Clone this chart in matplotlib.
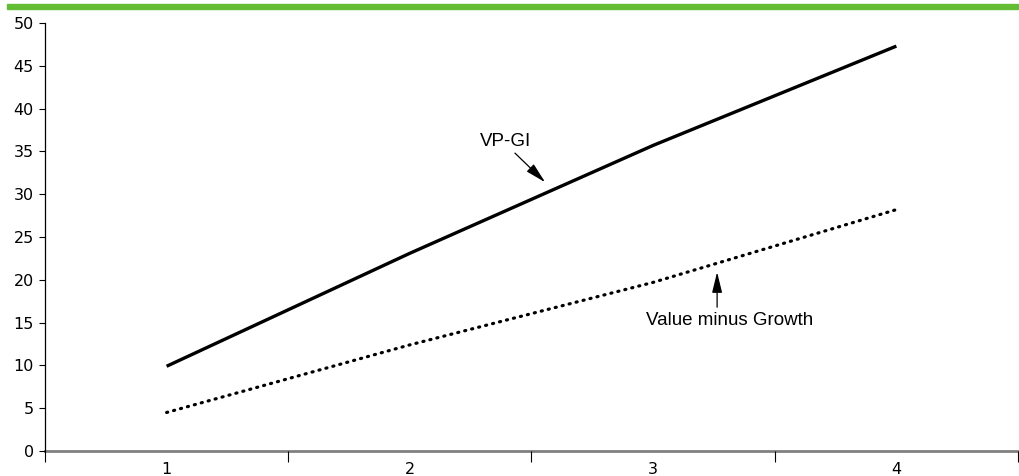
import matplotlib
matplotlib.use("Agg")
import matplotlib.pyplot as plt
from matplotlib.patches import Rectangle

categories = ["1", "2", "3", "4"]
vp_gi = [9.9, 23.1, 35.7, 47.3]
value_minus_growth = [4.5, 12.4, 19.7, 28.2]
y_ticks = [0, 5, 10, 15, 20, 25, 30, 35, 40, 45, 50]

plt.rcParams['font.family'] = ['Liberation Sans', 'DejaVu Sans']

fig = plt.figure(figsize=(10.2, 4.76), dpi=100)
ax = fig.add_axes([45/1020, 25/476, (1018-45)/1020, (451-23)/476])

x = list(range(1, len(categories) + 1))
ax.plot(x, vp_gi, color='black', lw=2.4, solid_capstyle='butt')
ax.plot(x, value_minus_growth, color='black', lw=2.3,
        linestyle=(0, (0.35, 1.9)), dash_capstyle='round')

ax.set_xlim(0.5, 4.5)
ax.set_ylim(0, 50)
ax.set_yticks(y_ticks)
ax.set_yticklabels([str(t) for t in y_ticks], fontsize=11.5, family='DejaVu Sans')
ax.set_xticks(x)
ax.set_xticklabels(categories, fontsize=11.5, family='DejaVu Sans')
ax.set_xticks([0.5, 1.5, 2.5, 3.5, 4.5], minor=True)
ax.tick_params(axis='x', which='major', length=0, pad=8)
ax.tick_params(axis='x', which='minor', length=8, width=0.8, direction='out')
ax.tick_params(axis='y', length=4, width=0.8, direction='out', pad=4)

for s in ['top', 'right']:
    ax.spines[s].set_visible(False)
ax.spines['left'].set_linewidth(0.9)
ax.spines['bottom'].set_color('#808080')
ax.spines['bottom'].set_linewidth(2.0)
ax.spines['bottom'].set_zorder(0.5)

arrow = dict(arrowstyle='-|>,head_length=0.9,head_width=0.22', color='black',
             lw=0.9, mutation_scale=14, shrinkA=0, shrinkB=0)

ax.text(2.395, 36.1, "VP-GI", ha='center', va='center', fontsize=13.5)
ax.annotate("", xy=(2.556, 31.4), xytext=(2.432, 34.8), arrowprops=arrow)

ax.text(3.316, 15.19, "Value minus Growth", ha='center', va='center', fontsize=13.5)
ax.annotate("", xy=(3.263, 20.9), xytext=(3.263, 16.8), arrowprops=arrow)

fig.patches.append(Rectangle((7/1020, 1 - 9/476), (1018-7)/1020, 5/476,
                             transform=fig.transFigure, color='#62bd35',
                             zorder=5))

fig.savefig("out.png", dpi=100)
